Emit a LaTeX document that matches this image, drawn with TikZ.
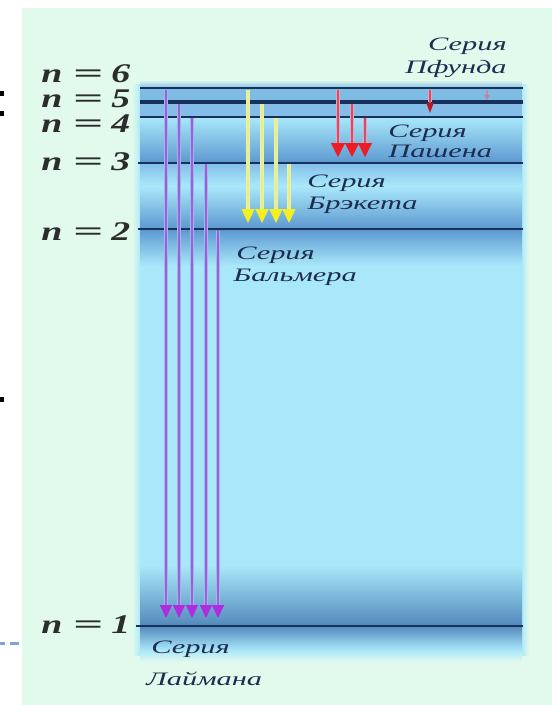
\documentclass[tikz,border=0pt]{standalone}
\usepackage{fontspec}
\setmainfont{Liberation Serif}[ItalicFont={Liberation Serif Italic}, BoldFont={Liberation Serif Bold}, BoldItalicFont={Liberation Serif Bold Italic}]
\usetikzlibrary{arrows.meta}
\definecolor{panelgreen}{HTML}{E2FAEC}
\definecolor{skyblue}{HTML}{A9E8FA}
\definecolor{bandblue}{HTML}{5C98D0}
\definecolor{midblue}{HTML}{84BEE8}
\definecolor{levelnavy}{HTML}{18305C}
\definecolor{labelnavy}{HTML}{1E2C50}
\definecolor{labelgray}{HTML}{2C2C2C}
\definecolor{lymanhalo}{HTML}{B4AAEE}
\definecolor{lymancore}{HTML}{8A6AD6}
\definecolor{lymanhead}{HTML}{B02CE0}
\definecolor{balmerhalo}{HTML}{E4F0B8}
\definecolor{balmercore}{HTML}{ECF078}
\definecolor{balmerhead}{HTML}{F4F020}
\definecolor{paschenhalo}{HTML}{E6A6BC}
\definecolor{paschencore}{HTML}{D24C6C}
\definecolor{paschenhead}{HTML}{EE1C24}
\definecolor{slidemark}{HTML}{7FA4D0}
\tikzset{
  nlab/.style={font=\fontsize{27}{30}\selectfont\bfseries\itshape, text=labelgray, inner sep=0pt, xscale=1.4},
  serlab/.style={font=\fontsize{19}{22}\selectfont\itshape, text=labelnavy, inner sep=0pt, xscale=1.6},
  level/.style={draw=levelnavy, line width=2pt},
  lymanhalostyle/.style={draw=lymanhalo, line width=4.5pt},
  lymanarrow/.style={draw=lymancore, line width=1.6pt, -{Triangle[width=12pt,length=13pt,color=lymanhead]}},
  balmerhalostyle/.style={draw=balmerhalo, line width=3.5pt},
  balmerarrow/.style={draw=balmercore, line width=1.2pt, -{Triangle[width=13pt,length=14pt,color=balmerhead]}},
  paschenhalostyle/.style={draw=paschenhalo, line width=3.5pt},
  paschenarrow/.style={draw=paschencore, line width=1.3pt, -{Triangle[width=14pt,length=14pt,color=paschenhead]}},
}
\newcommand{\levlabel}[3]{%
  \node[nlab, anchor=base west] (#1n) at (41,#2) {n};
  \node[nlab, anchor=base, xscale=1.4] (#1eq) at (88,#2) {=};
  \node[nlab, anchor=base west] (#1d) at (111,#2) {#3};
}
\begin{document}
\begin{tikzpicture}[x=1pt,y=-1pt]
\useasboundingbox (0,0) rectangle (552,705);
\fill[white] (0,0) rectangle (552,705);
% slide panel
\fill[panelgreen] (22,8) rectangle (552,705);
% slide marks
\fill[black] (0,91) rectangle (4,96);
\fill[black] (0,111) rectangle (4,116);
\fill[black] (0,397) rectangle (4,402);
\fill[slidemark] (0,642) rectangle (5,645);
\fill[slidemark] (10,642) rectangle (19,645);
% blue panel
\fill[skyblue] (140,84) rectangle (522,655);
\shade[left color=panelgreen, right color=skyblue] (132,84) rectangle (141,655);
\shade[left color=skyblue, right color=panelgreen] (521,84) rectangle (529,655);
\shade[top color=panelgreen, bottom color=midblue] (140,80) rectangle (522,88);
\fill[midblue] (140,88) rectangle (522,117);
\fill[bandblue!55!skyblue] (140,89) rectangle (522,101);
\shade[top color=skyblue, bottom color=bandblue] (140,117) rectangle (522,163);
\shade[top color=midblue, bottom color=skyblue] (140,163) rectangle (522,186);
\shade[top color=skyblue, bottom color=bandblue] (140,186) rectangle (522,229);
\shade[top color=bandblue, bottom color=skyblue] (140,229) rectangle (522,266);
\shade[top color=skyblue, bottom color=bandblue!90!black] (140,565) rectangle (522,626);
\shade[top color=bandblue!90!black, bottom color=skyblue] (140,626) rectangle (522,650);
\shade[top color=skyblue, bottom color=panelgreen] (140,650) rectangle (522,662);
% energy levels
\coordinate (L6w) at (140,88);  \coordinate (L6e) at (523,88);
\coordinate (L5w) at (140,102); \coordinate (L5e) at (523,102);
\coordinate (L4w) at (140,117); \coordinate (L4e) at (523,117);
\coordinate (L3w) at (138,163); \coordinate (L3e) at (523,163);
\coordinate (L2w) at (138,229); \coordinate (L2e) at (523,229);
\coordinate (L1w) at (136,626); \coordinate (L1e) at (523,626);
\draw[level, line width=1.8pt] (L6w) -- (L6e);
\draw[level, line width=3.5pt] (L5w) -- (L5e);
\draw[level, line width=1.8pt] (L4w) -- (L4e);
\draw[level] (L3w) -- (L3e);
\draw[level, line width=2.4pt] (L2w) -- (L2e);
\draw[level, line width=2pt] (L1w) -- (L1e);
% Lyman series
\foreach \x/\y in {166/90, 179/104, 192/118, 206/164, 218/231}{
  \draw[lymanhalostyle] (\x,\y) -- (\x,606);
  \draw[lymanarrow] (\x,\y) -- (\x,618);
}
% Balmer series (yellow)
\foreach \x/\y in {248/90, 262/104, 276/118, 289/164}{
  \draw[balmerhalostyle] (\x,\y) -- (\x,210);
  \draw[balmerarrow] (\x,\y) -- (\x,223);
}
% Paschen series (red)
\foreach \x/\y in {338/90, 352/104, 365/118}{
  \draw[paschenhalostyle] (\x,\y) -- (\x,143);
  \draw[paschenarrow] (\x,\y) -- (\x,157);
}
% Pfund series
\draw[paschenhalostyle] (430,90) -- (430,102);
\draw[draw=paschencore, line width=1.5pt, -{Triangle[width=7pt,length=10pt,color=paschenhead!80!black]}] (430,90) -- (430,113);
\draw[draw=paschencore!60!skyblue, line width=1.2pt, -{Triangle[width=5pt,length=5pt,color=paschencore!70!skyblue]}] (487,90) -- (487,100);
% level labels
\levlabel{l6}{82}{6}
\levlabel{l5}{107}{5}
\levlabel{l4}{132}{4}
\levlabel{l3}{170}{3}
\levlabel{l2}{240}{2}
\levlabel{l1}{633}{1}
% series labels
\node[serlab, anchor=base east] (pf1) at (507,50) {Серия};
\node[serlab, anchor=base east] (pf2) at (507,73) {Пфунда};
\node[serlab, anchor=base west] (pa1) at (388,137) {Серия};
\node[serlab, anchor=base west] (pa2) at (388,157) {Пашена};
\node[serlab, anchor=base west] (br1) at (307,187) {Серия};
\node[serlab, anchor=base west] (br2) at (307,209) {Брэкета};
\node[serlab, anchor=base west] (ba1) at (236,259) {Серия};
\node[serlab, anchor=base west] (ba2) at (233,281) {Бальмера};
\node[serlab, anchor=base west] (ly1) at (151,653) {Серия};
\node[serlab, anchor=base west] (ly2) at (146,685) {Лаймана};
\end{tikzpicture}
\end{document}
